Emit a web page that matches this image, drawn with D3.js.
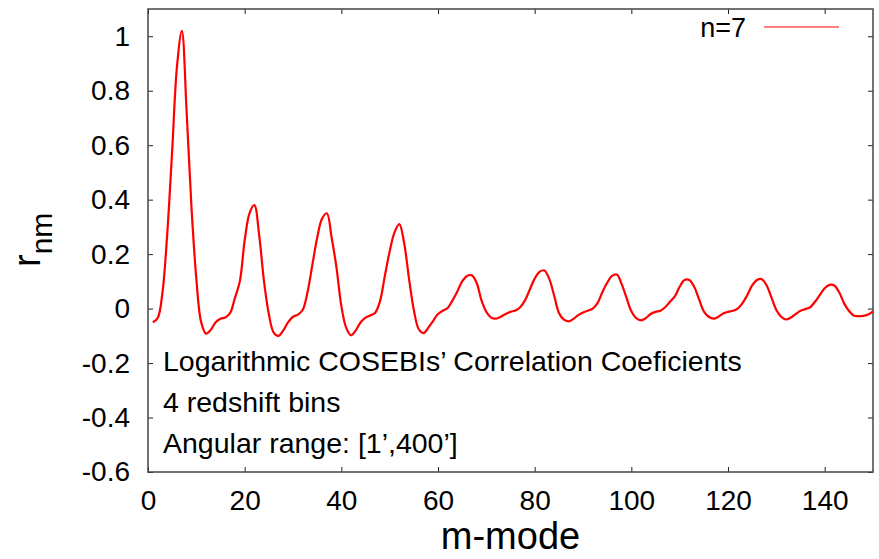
<!DOCTYPE html>
<html>
<head>
<meta charset="utf-8">
<script src="https://cdn.jsdelivr.net/npm/d3@7"></script>
<style>
  body { margin: 0; background: #fff; }
  svg { display: block; font-family: "Liberation Sans", Arial, Helvetica, sans-serif; }
</style>
</head>
<body>
<div id="chart"></div>
<script>
// m-mode index and correlation coefficient r_nm for n=7
const mModes = d3.range(1, 151);
const rValues = [
  -0.05, -0.035, 0.06, 0.28, 0.58, 0.89, 1.02, 0.72, 0.37, 0.11,
  -0.05, -0.092, -0.078, -0.05, -0.037, -0.033, -0.016, 0.04, 0.10, 0.25,
  0.35, 0.38, 0.27, 0.10, -0.02, -0.088, -0.10, -0.08, -0.05, -0.03,
  -0.022, -0.005, 0.06, 0.16, 0.26, 0.33, 0.35, 0.26, 0.15, 0.01,
  -0.07, -0.098, -0.08, -0.05, -0.033, -0.025, -0.015, 0.027, 0.12, 0.21,
  0.28, 0.31, 0.24, 0.11, -0.005, -0.075, -0.09, -0.07, -0.045, -0.02,
  -0.008, 0.002, 0.03, 0.063, 0.10, 0.12, 0.122, 0.094, 0.03, -0.012,
  -0.033, -0.037, -0.03, -0.02, -0.012, -0.007, 0.005, 0.03, 0.07, 0.11,
  0.135, 0.14, 0.11, 0.05, -0.015, -0.04, -0.047, -0.038, -0.024, -0.014,
  -0.008, 0.0, 0.02, 0.06, 0.095, 0.12, 0.125, 0.09, 0.04, -0.01,
  -0.035, -0.043, -0.035, -0.02, -0.012, -0.008, 0.005, 0.025, 0.045, 0.08,
  0.105, 0.105, 0.08, 0.035, -0.01, -0.03, -0.037, -0.03, -0.018, -0.012,
  -0.008, 0.0, 0.02, 0.05, 0.085, 0.105, 0.108, 0.085, 0.04, -0.005,
  -0.03, -0.04, -0.033, -0.02, -0.008, -0.002, 0.005, 0.025, 0.05, 0.075,
  0.087, 0.085, 0.06, 0.02, -0.008, -0.025, -0.028, -0.027, -0.022, -0.01
];
const xTicks = [0, 20, 40, 60, 80, 100, 120, 140];
const yTicks = [-0.6, -0.4, -0.2, 0, 0.2, 0.4, 0.6, 0.8, 1];
const seriesName = "n=7";
const noteLines = [
  "Logarithmic COSEBIs\u2019 Correlation Coeficients",
  "4 redshift bins",
  "Angular range: [1\u2019,400\u2019]"
];

const width = 879, height = 559;
const margin = {top: 9, right: 6, bottom: 87, left: 148};
const plotW = width - margin.left - margin.right,
      plotH = height - margin.top - margin.bottom;

const svg = d3.select('#chart').append('svg')
  .attr('width', width)
  .attr('height', height);

const x = d3.scaleLinear().domain([0, 150]).range([0, plotW]);
const y = d3.scaleLinear().domain([-0.6, 1.1]).range([plotH, 0]);

const g = svg.append('g')
  .attr('transform', `translate(${margin.left},${margin.top})`);

// plain hyphen for negatives, like gnuplot
const fmt = d => String(+d.toFixed(1));

// axes with inward ticks on all four sides
function styleAxis(sel) {
  sel.select('.domain').remove();
  sel.selectAll('.tick line').attr('stroke', '#222').attr('stroke-width', 1);
  sel.selectAll('.tick text')
    .attr('fill', '#000')
    .attr('font-family', null)
    .attr('font-size', null)
    .style('font-size', '28px');
}

g.append('g')
  .attr('transform', `translate(0,${plotH})`)
  .call(d3.axisBottom(x).tickValues(xTicks).tickSizeInner(-5).tickSizeOuter(0).tickPadding(18).tickFormat(fmt))
  .call(styleAxis);

g.append('g')
  .call(d3.axisTop(x).tickValues(xTicks).tickSizeInner(-5).tickSizeOuter(0).tickFormat(''))
  .call(styleAxis);

g.append('g')
  .call(d3.axisLeft(y).tickValues(yTicks).tickSizeInner(-5).tickSizeOuter(0).tickPadding(18).tickFormat(fmt))
  .call(styleAxis);

g.append('g')
  .attr('transform', `translate(${plotW},0)`)
  .call(d3.axisRight(y).tickValues(yTicks).tickSizeInner(-5).tickSizeOuter(0).tickFormat(''))
  .call(styleAxis);

// frame
g.append('rect')
  .attr('width', plotW)
  .attr('height', plotH)
  .attr('fill', 'none')
  .attr('stroke', '#444')
  .attr('stroke-width', 1.5);

// the curve
const line = d3.line()
  .x((d, i) => x(mModes[i]))
  .y(d => y(d))
  .curve(d3.curveCatmullRom.alpha(0.5));

g.append('path')
  .datum(rValues)
  .attr('fill', 'none')
  .attr('stroke', '#ff0000')
  .attr('stroke-width', 2.2)
  .attr('stroke-linejoin', 'round')
  .attr('d', line);

// legend, top right
g.append('text')
  .attr('x', 598)
  .attr('y', 28)
  .attr('text-anchor', 'end')
  .style('font-size', '27px')
  .text(seriesName);

g.append('line')
  .attr('x1', 616).attr('x2', 691)
  .attr('y1', 18).attr('y2', 18)
  .attr('stroke', '#ff0000')
  .attr('stroke-width', 1);

// annotation text inside the plot
g.selectAll('.note')
  .data(noteLines)
  .join('text')
  .attr('class', 'note')
  .attr('x', 15)
  .attr('y', (d, i) => 362 + i * 41)
  .style('font-size', '28.5px')
  .text(d => d);

// axis titles
svg.append('text')
  .attr('x', margin.left + plotW / 2)
  .attr('y', 549)
  .attr('text-anchor', 'middle')
  .style('font-size', '38px')
  .text('m-mode');

const yTitle = svg.append('text')
  .attr('transform', 'translate(40,267) rotate(-90)')
  .style('font-size', '38px');
yTitle.append('tspan').text('r');
yTitle.append('tspan')
  .attr('dy', 12)
  .style('font-size', '30px')
  .text('nm');
</script>
</body>
</html>
